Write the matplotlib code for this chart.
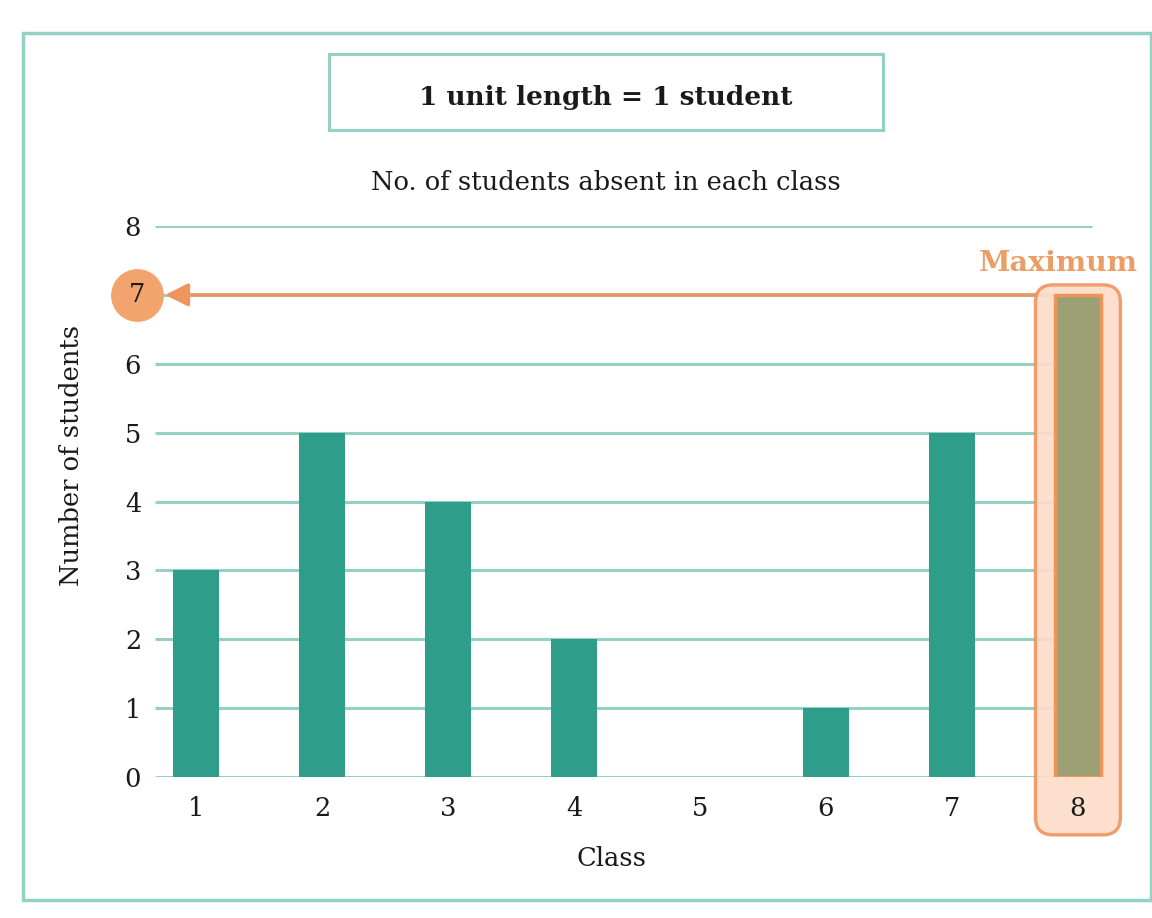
import numpy as np
import matplotlib
matplotlib.use("Agg")
from matplotlib import pyplot as plt
from matplotlib.patches import Rectangle, FancyBboxPatch

# data
classes = [1, 2, 3, 4, 5, 6, 7, 8]
absent = [3, 5, 4, 2, 0, 1, 5, 7]
y_ticks = [0, 1, 2, 3, 4, 5, 6, 7, 8]
title = "1 unit length = 1 student"
subtitle = "No. of students absent in each class"
x_label = "Class"
y_label = "Number of students"
max_label = "Maximum"

TEAL = "#2e9e8a"
GRID = "#93d1c5"
ORANGE = "#ef945d"
PEACH = "#fcdcc8"
OLIVE = "#9ca175"
INK = "#1a1a1a"

plt.rcParams["font.family"] = ["DejaVu Serif"]

W, H = 1152, 918
fig = plt.figure(figsize=(W / 100, H / 100), dpi=100)

# outer frame
fig.patches.append(Rectangle((23 / W, 1 - 900 / H), 1128 / W, 867 / H,
                             transform=fig.transFigure, fill=False,
                             edgecolor=GRID, lw=2.5))
# title box
fig.patches.append(Rectangle((329 / W, 1 - 130 / H), 554 / W, 76 / H,
                             transform=fig.transFigure, fill=False,
                             edgecolor=GRID, lw=2.2))
fig.text(606 / W, 1 - 98 / H, title, ha="center", va="center",
         fontsize=19, fontweight="bold", color=INK)
fig.text(606 / W, 1 - 183 / H, subtitle, ha="center", va="center",
         fontsize=18.5, color=INK)

ax = fig.add_axes([155 / W, 1 - 777 / H, 975 / W, 551 / H])
x0 = 0.675
ax.set_xlim(x0, x0 + 975 / 126)
ax.set_ylim(0, 8)
for s in ax.spines.values():
    s.set_visible(False)

xr = 0.675 + (1092 - 155) / 126
ax.hlines(y_ticks, x0, xr, color=GRID, lw=2.2, zorder=1)

n_max = int(np.argmax(absent))
colors = [OLIVE if i == n_max else TEAL for i in range(len(classes))]
bars = ax.bar(classes, absent, width=0.36, color=colors, zorder=3)
bars[n_max].set_edgecolor(ORANGE)
bars[n_max].set_linewidth(2.5)

ax.set_yticks(y_ticks)
ax.set_xticks(classes)
ax.tick_params(length=0, labelsize=18.5, colors=INK)
ax.tick_params(axis="x", pad=14)
ax.tick_params(axis="y", pad=10)
ax.xaxis.set_zorder(2.5)
ax.set_xlabel(x_label, fontsize=18.5, color=INK)
ax.set_ylabel(y_label, fontsize=18.5, color=INK)
ax.xaxis.set_label_coords(0.468, -0.125)
ax.yaxis.set_label_coords(-0.073, 0.584)

# highlight around max bar
xm, ym = classes[n_max], absent[n_max]
box = FancyBboxPatch((xm - 0.337, -0.84), 0.674, ym + 0.145 + 0.84,
                     boxstyle="round,pad=0,rounding_size=0.14",
                     mutation_aspect=126 / 68.9,
                     facecolor=PEACH, edgecolor=ORANGE, lw=2.4, alpha=0.9,
                     clip_on=False, zorder=2)
ax.add_patch(box)
ax.text(xm - 0.16, ym + 0.45, max_label, ha="center", va="center",
        fontsize=20.5, fontweight="bold", color="#eb9d66")

# arrow to the y axis
ax.annotate("", xy=(x0 + 0.08, ym), xytext=(xm - 0.337, ym),
            arrowprops=dict(arrowstyle="-|>,head_length=1.4,head_width=0.7",
                            color=ORANGE, lw=2.5, shrinkA=0, shrinkB=0),
            annotation_clip=False, zorder=4)
ax.plot([x0 - 0.145], [ym], "o", ms=37, color="#f3a46c", clip_on=False,
        zorder=5)
ax.text(x0 - 0.145, ym, str(ym), ha="center", va="center", fontsize=18.5,
        color=INK, zorder=6)
ax.set_yticklabels([str(t) if t != ym else "" for t in y_ticks])

fig.savefig("out.png", dpi=100)
